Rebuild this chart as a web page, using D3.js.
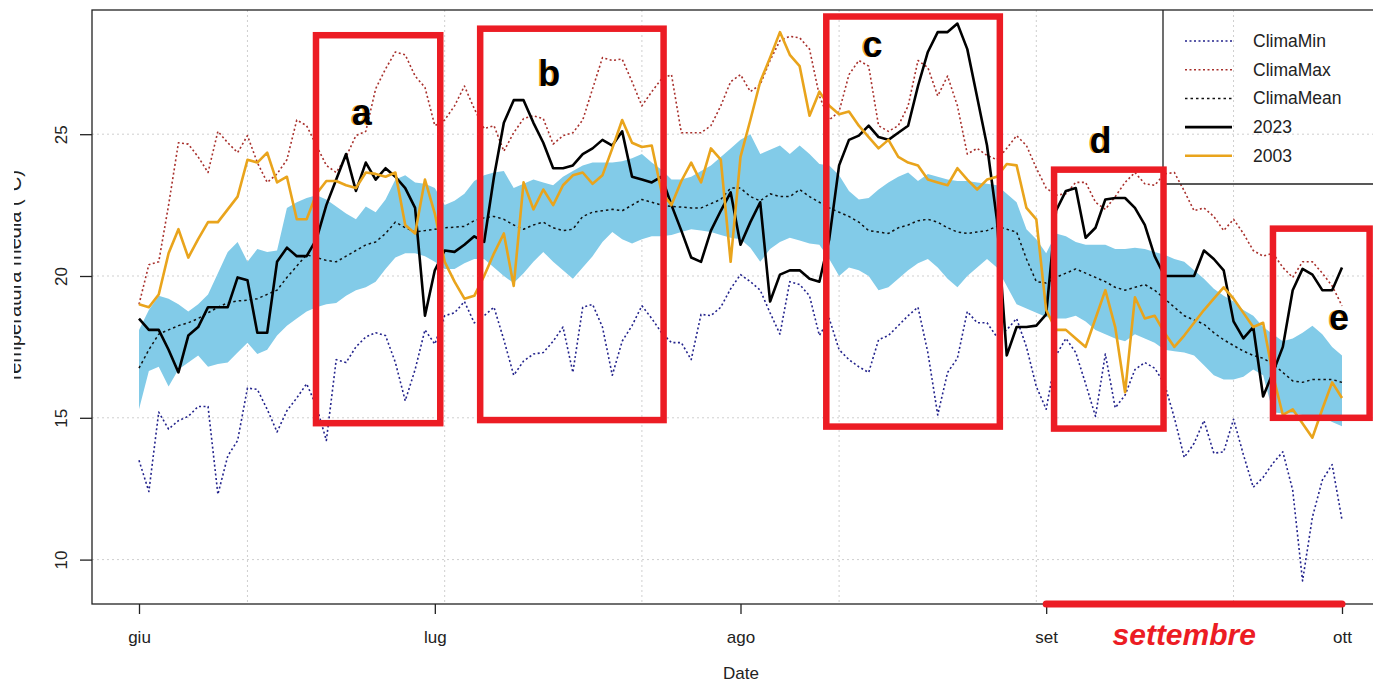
<!DOCTYPE html>
<html>
<head>
<meta charset="utf-8">
<script src="https://cdn.jsdelivr.net/npm/d3@7"></script>
<style>
  body { margin: 0; background: #fff; }
  svg { display: block; font-family: "Liberation Sans", Arial, sans-serif; }
</style>
</head>
<body>
<div id="chart"></div>
<script>
// first day of the series, one value per day up to 1 October
const startDate = "2023-06-01";
const monthTicks = ["2023-06-01", "2023-07-01", "2023-08-01", "2023-09-01", "2023-10-01"];
const monthLabels = ["giu", "lug", "ago", "set", "ott"];
const gridDays = ["2023-06-12", "2023-07-02", "2023-07-22", "2023-08-11", "2023-08-31", "2023-09-20"];
const tempTicks = [10, 15, 20, 25];

const climaMin = [13.5,12.4,15.2,14.6,14.9,15.05,15.4,15.4,12.3,13.65,
  14.2,16.05,16.0,15.3,14.5,15.25,15.7,16.2,15.4,14.2,
  17.05,16.95,17.5,17.85,18.0,17.9,16.95,15.6,16.7,18.1,
  17.6,18.6,18.7,19.1,18.35,18.6,18.9,17.75,16.5,17.0,
  17.25,17.3,17.7,18.2,16.6,18.9,19.0,18.2,16.5,17.7,
  18.25,18.95,18.5,18.0,17.65,17.65,17.05,18.65,18.6,18.9,
  19.55,20.05,19.8,19.5,18.7,17.95,19.8,19.7,19.3,17.9,
  18.5,17.4,17.05,16.8,16.6,17.75,17.9,18.25,18.6,18.9,
  17.3,15.1,16.6,17.1,18.75,18.35,18.35,17.85,18.1,18.5,
  17.5,16.1,15.3,17.2,17.8,17.3,16.2,15.05,17.25,15.35,
  15.8,16.7,16.95,16.75,16.2,15.0,13.6,14.1,14.9,13.75,
  13.8,14.95,13.7,12.55,12.9,13.4,13.8,12.45,9.25,11.5,
  12.8,13.35,11.4];

const climaMax = [19.0,20.4,20.5,22.5,24.7,24.65,24.2,23.65,25.1,24.7,
  24.35,24.95,24.0,23.3,23.6,24.1,25.5,25.3,24.6,23.9,
  23.65,24.2,24.95,25.1,26.6,27.3,27.9,27.8,27.05,26.65,
  25.3,25.5,26.0,26.7,25.9,25.2,25.3,24.4,25.05,25.55,
  25.65,25.55,24.65,24.95,25.05,25.5,26.6,27.7,27.6,27.65,
  26.85,26.0,26.5,26.95,27.1,25.05,25.05,25.05,25.3,26.0,
  26.85,27.1,26.5,26.75,27.6,28.3,28.45,28.4,28.0,26.35,
  25.5,25.8,27.1,27.6,27.4,25.3,25.1,25.3,26.0,27.6,
  27.35,26.35,27.05,26.0,24.3,24.5,24.25,24.1,24.5,24.95,
  24.6,23.8,23.1,22.85,22.9,23.3,23.3,22.6,22.35,22.8,
  23.3,23.65,23.25,23.2,23.6,23.65,23.0,22.3,22.4,22.1,
  21.6,22.0,21.5,20.9,20.7,20.8,20.3,19.95,20.5,20.5,
  20.1,19.65,18.95];

const climaMean = [16.75,17.4,17.95,18.1,18.25,18.35,18.5,18.7,18.9,19.05,
  19.12,19.15,19.2,19.35,19.5,19.95,20.35,20.75,20.65,20.55,
  20.5,20.7,20.9,21.1,21.2,21.5,21.9,21.7,21.55,21.6,
  21.65,21.7,21.72,21.75,21.95,22.05,22.1,22.0,21.8,21.65,
  21.8,21.9,21.7,21.6,21.65,22.1,22.25,22.3,22.35,22.3,
  22.5,22.7,22.6,22.5,22.45,22.43,22.4,22.4,22.55,22.7,
  23.1,23.1,22.8,22.65,22.9,22.8,22.8,23.05,22.8,22.6,
  22.4,22.25,22.1,21.9,21.6,21.55,21.5,21.7,21.8,21.95,
  22.0,21.9,21.7,21.55,21.5,21.55,21.6,21.75,21.65,21.55,
  20.6,19.8,19.75,19.95,20.1,20.25,20.1,19.95,19.8,19.6,
  19.5,19.6,19.7,19.5,19.2,18.9,18.6,18.45,18.3,18.0,
  17.75,17.55,17.35,17.2,17.1,16.9,16.6,16.3,16.25,16.35,
  16.35,16.35,16.25];

// blue band: lower and upper edge
const bandLow = [15.3,16.65,16.8,16.1,16.7,16.95,17.2,16.8,16.9,16.95,
  17.3,17.65,17.25,17.4,17.9,18.25,18.5,18.75,18.9,19.0,
  19.05,19.3,19.5,19.6,19.8,20.25,20.65,20.8,20.8,20.7,
  20.5,20.25,20.25,20.45,20.6,20.6,20.3,20.0,19.75,20.1,
  20.5,20.85,20.5,20.2,19.9,20.3,20.7,21.2,21.55,21.3,
  21.15,21.3,21.4,21.4,21.45,21.55,21.65,21.6,21.55,21.45,
  21.35,21.3,21.0,20.5,20.95,21.2,21.35,21.25,21.15,21.1,
  20.6,20.0,20.3,20.2,20.0,19.5,19.6,19.9,20.2,20.45,
  20.6,20.3,19.9,19.6,20.0,20.3,20.6,20.3,19.65,19.0,
  18.85,18.7,18.55,18.5,18.5,18.6,18.4,18.1,17.95,17.8,
  17.7,17.95,17.8,17.65,17.4,17.35,17.3,17.2,16.85,16.5,
  16.35,16.35,16.45,16.7,16.5,15.2,15.15,15.15,15.1,14.95,
  15.05,14.85,14.7];

const bandHigh = [18.1,18.8,19.3,19.2,19.0,18.75,19.0,19.35,20.1,20.85,
  21.2,20.5,20.95,20.85,20.9,22.4,22.6,22.75,22.85,22.7,
  22.45,22.2,22.0,22.45,22.25,22.7,23.4,23.55,23.3,23.25,
  23.1,22.5,22.65,22.9,23.35,23.55,23.65,23.7,23.1,23.25,
  23.4,23.3,23.2,23.5,23.7,23.9,24.0,24.0,24.0,24.05,
  24.15,24.3,24.0,23.75,23.4,23.4,23.5,23.7,23.9,24.2,
  24.5,24.8,25.0,24.3,24.45,24.6,24.3,24.6,24.3,23.95,
  23.9,23.55,23.0,22.7,22.75,23.05,23.3,23.5,23.65,23.35,
  23.6,23.5,23.4,23.35,23.35,23.3,23.25,23.2,22.9,22.6,
  21.65,21.3,20.8,21.5,21.4,21.2,21.1,21.1,21.1,20.95,
  20.95,21.0,20.95,20.85,20.75,20.6,20.5,20.2,19.9,19.55,
  19.3,19.1,18.8,18.6,18.2,17.95,17.7,17.8,18.0,18.25,
  17.95,17.5,17.2];

const y2023 = [18.5,18.1,18.1,17.4,16.6,17.9,18.2,18.9,18.9,18.9,
  19.95,19.85,18.0,18.0,20.5,21.0,20.7,20.7,21.3,22.5,
  23.4,24.3,23.0,24.0,23.4,23.8,23.5,23.1,22.4,18.6,
  20.2,20.9,20.85,21.1,21.4,21.2,23.5,25.4,26.2,26.2,
  25.4,24.7,23.8,23.8,23.9,24.3,24.5,24.8,24.6,25.1,
  23.5,23.4,23.3,23.5,22.5,21.6,20.65,20.5,21.6,22.3,
  22.95,21.1,21.9,22.6,19.1,20.05,20.2,20.2,19.9,19.8,
  21.3,23.9,24.8,24.95,25.3,24.9,24.8,25.05,25.3,26.7,
  27.9,28.6,28.6,28.9,28.0,26.3,24.6,22.0,17.2,18.2,
  18.2,18.25,18.65,22.3,23.0,23.1,21.35,21.7,22.7,22.75,
  22.75,22.4,21.8,20.7,20.0,20.0,20.0,20.0,20.9,20.6,
  20.2,18.4,17.8,18.2,15.75,16.6,17.5,19.5,20.25,20.05,
  19.5,19.5,20.3];

const y2003 = [19.0,18.9,19.35,20.8,21.65,20.65,21.3,21.9,21.9,22.35,
  22.8,24.1,24.0,24.35,23.3,23.5,22.0,22.0,22.9,23.35,
  23.35,23.2,23.1,23.65,23.6,23.5,23.65,21.8,21.5,23.4,
  22.2,20.5,19.8,19.2,19.3,20.0,20.8,21.5,19.65,23.3,
  22.35,23.05,22.5,23.2,23.55,23.65,23.25,23.55,24.5,25.5,
  24.7,24.55,24.6,22.95,22.5,23.35,24.0,23.3,24.5,24.1,
  20.5,24.2,25.5,26.85,27.7,28.6,27.8,27.4,25.65,26.5,
  26.0,25.7,25.8,25.3,24.9,24.5,24.8,24.2,24.0,23.9,
  23.4,23.3,23.2,23.8,23.4,23.05,23.4,23.5,23.95,23.9,
  22.4,22.0,18.8,18.1,18.1,17.8,17.5,18.5,19.5,18.2,
  15.9,19.25,18.5,18.6,18.0,17.5,17.9,18.35,18.8,19.2,
  19.6,19.2,18.7,18.2,18.35,16.5,15.1,15.3,14.8,14.3,
  15.3,16.25,15.7];

// red boxes drawn on top: day offsets from startDate and temperatures
const boxLabels = ["a", "b", "c", "d", "e"];
const boxDayFrom = [17.95, 34.6, 69.7, 92.8, 115.0];
const boxDayTo = [30.55, 53.2, 87.3, 103.9, 124.8];
const boxTempHigh = [28.49, 28.72, 29.15, 23.75, 21.67];
const boxTempLow = [14.81, 14.92, 14.69, 14.62, 15.0];
const labelDay = [22.6, 41.6, 74.4, 97.5, 121.7];
const labelTemp = [25.77, 27.15, 28.17, 24.78, 18.54];

const width = 1373, height = 682;
const plot = { left: 92, top: 10, right: 1390, bottom: 604 };

const parse = d3.utcParse("%Y-%m-%d");
const t0 = parse(startDate);
const dayDate = i => new Date(t0.getTime() + i * 864e5);

const x = d3.scaleUtc()
    .domain([parse(monthTicks[0]), parse(monthTicks[monthTicks.length - 1])])
    .range([139, 1342]);
const y = d3.scaleLinear()
    .domain([10, 25])
    .range([559.6, 134.2]);

const rows = y2023.map((v, i) => ({
    date: dayDate(i),
    min: climaMin[i], max: climaMax[i], mean: climaMean[i],
    lo: bandLow[i], hi: bandHigh[i], y23: v, y03: y2003[i]
}));

const svg = d3.select("#chart").append("svg")
    .attr("width", width)
    .attr("height", height);

// grid
const grid = svg.append("g")
    .attr("stroke", "#cfcfcf")
    .attr("stroke-width", 1)
    .attr("stroke-dasharray", "2,3");
grid.selectAll("line.h").data(tempTicks).enter().append("line")
    .attr("x1", plot.left).attr("x2", plot.right)
    .attr("y1", d => y(d)).attr("y2", d => y(d));
grid.selectAll("line.v").data(gridDays).enter().append("line")
    .attr("x1", d => x(parse(d))).attr("x2", d => x(parse(d)))
    .attr("y1", plot.top).attr("y2", plot.bottom);

// climate band
svg.append("path")
    .datum(rows)
    .attr("fill", "#82cbe8")
    .attr("d", d3.area()
        .x(d => x(d.date))
        .y0(d => y(d.lo))
        .y1(d => y(d.hi)));

const series = [
    { key: "min", name: "ClimaMin", color: "#23238c", width: 1.6, dash: "2,2.5" },
    { key: "max", name: "ClimaMax", color: "#a8302c", width: 1.6, dash: "2,2.5" },
    { key: "mean", name: "ClimaMean", color: "#111", width: 1.5, dash: "2.5,3" },
    { key: "y23", name: "2023", color: "#000", width: 2.6, dash: null },
    { key: "y03", name: "2003", color: "#e9a41c", width: 2.6, dash: null }
];

series.forEach(s => {
    svg.append("path")
        .datum(rows)
        .attr("fill", "none")
        .attr("stroke", s.color)
        .attr("stroke-width", s.width)
        .attr("stroke-dasharray", s.dash)
        .attr("stroke-linejoin", "round")
        .attr("d", d3.line().x(d => x(d.date)).y(d => y(d[s.key])));
});

// plot frame
svg.append("rect")
    .attr("x", plot.left).attr("y", plot.top)
    .attr("width", plot.right - plot.left)
    .attr("height", plot.bottom - plot.top)
    .attr("fill", "none")
    .attr("stroke", "#222")
    .attr("stroke-width", 1.3);

// x axis
const xAxis = svg.append("g")
    .attr("transform", `translate(0,${plot.bottom})`)
    .call(d3.axisBottom(x)
        .tickValues(monthTicks.map(parse))
        .tickSize(10)
        .tickPadding(17)
        .tickFormat((d, i) => monthLabels[i]));
xAxis.select(".domain").remove();
xAxis.selectAll("line").attr("stroke", "#222").attr("stroke-width", 1.3);
xAxis.selectAll("text").attr("font-size", 17).attr("fill", "#222")
    .attr("font-family", "Liberation Sans, Arial, sans-serif");

// y axis, labels turned like R does
const yAxis = svg.append("g")
    .attr("transform", `translate(${plot.left},0)`)
    .call(d3.axisLeft(y).tickValues(tempTicks).tickSize(12).tickFormat(d3.format("d")));
yAxis.select(".domain").remove();
yAxis.selectAll("line").attr("stroke", "#222").attr("stroke-width", 1.3);
yAxis.selectAll("text")
    .attr("x", null).attr("dy", null)
    .attr("transform", "translate(-25,0) rotate(-90)")
    .attr("text-anchor", "middle")
    .attr("font-size", 17).attr("fill", "#222")
    .attr("font-family", "Liberation Sans, Arial, sans-serif");

svg.append("text")
    .attr("x", (plot.left + plot.right) / 2)
    .attr("y", 679)
    .attr("text-anchor", "middle")
    .attr("font-size", 17).attr("fill", "#222")
    .text("Date");

// y title, cut on the left edge as in the picture
svg.append("clipPath").attr("id", "ycut")
    .append("rect").attr("x", 14).attr("y", 0).attr("width", 60).attr("height", height);
svg.append("g")
    .attr("clip-path", "url(#ycut)")
    .append("text")
    .attr("transform", "translate(21,277) rotate(-90)")
    .attr("text-anchor", "middle")
    .attr("font-size", 20).attr("fill", "#222")
    .text("Temperatura media (°C)");

// legend
const legend = svg.append("g");
legend.append("path")
    .attr("d", `M1163,${plot.top}V184H${width + 10}`)
    .attr("fill", "none").attr("stroke", "#222").attr("stroke-width", 1.3);
series.forEach((s, i) => {
    const ly = 41 + i * 28.7;
    legend.append("line")
        .attr("x1", 1185).attr("x2", 1232)
        .attr("y1", ly).attr("y2", ly)
        .attr("stroke", s.color)
        .attr("stroke-width", s.width)
        .attr("stroke-dasharray", s.dash);
    legend.append("text")
        .attr("x", 1253).attr("y", ly + 6)
        .attr("font-size", 17.5).attr("fill", "#222")
        .text(s.name);
});

// red annotations
const red = "#ec1c24";
const ann = svg.append("g");
boxLabels.forEach((lab, i) => {
    const x0 = x(dayDate(boxDayFrom[i]));
    const x1 = x(dayDate(boxDayTo[i]));
    ann.append("rect")
        .attr("x", x0).attr("y", y(boxTempHigh[i]))
        .attr("width", x1 - x0)
        .attr("height", y(boxTempLow[i]) - y(boxTempHigh[i]))
        .attr("fill", "none")
        .attr("stroke", red)
        .attr("stroke-width", 6.5);
    const lx = x(dayDate(labelDay[i]));
    const ly = y(labelTemp[i]);
    ann.append("text")
        .attr("x", lx - 1.5).attr("y", ly)
        .attr("dy", "0.35em")
        .attr("text-anchor", "middle")
        .attr("font-size", 36).attr("font-weight", "bold")
        .attr("fill", "#f0a830")
        .text(lab);
    ann.append("text")
        .attr("x", lx).attr("y", ly)
        .attr("dy", "0.35em")
        .attr("text-anchor", "middle")
        .attr("font-size", 36).attr("font-weight", "bold")
        .attr("fill", "#000")
        .text(lab);
});

// september bar under the axis
ann.append("line")
    .attr("x1", x(parse(monthTicks[3]))).attr("x2", x(parse(monthTicks[4])))
    .attr("y1", plot.bottom).attr("y2", plot.bottom)
    .attr("stroke", red).attr("stroke-width", 7)
    .attr("stroke-linecap", "round");
ann.append("text")
    .attr("x", x(dayDate(106)))
    .attr("y", 645)
    .attr("text-anchor", "middle")
    .attr("font-size", 30)
    .attr("font-weight", "bold")
    .attr("font-style", "italic")
    .attr("fill", red)
    .text("settembre");
</script>
</body>
</html>
